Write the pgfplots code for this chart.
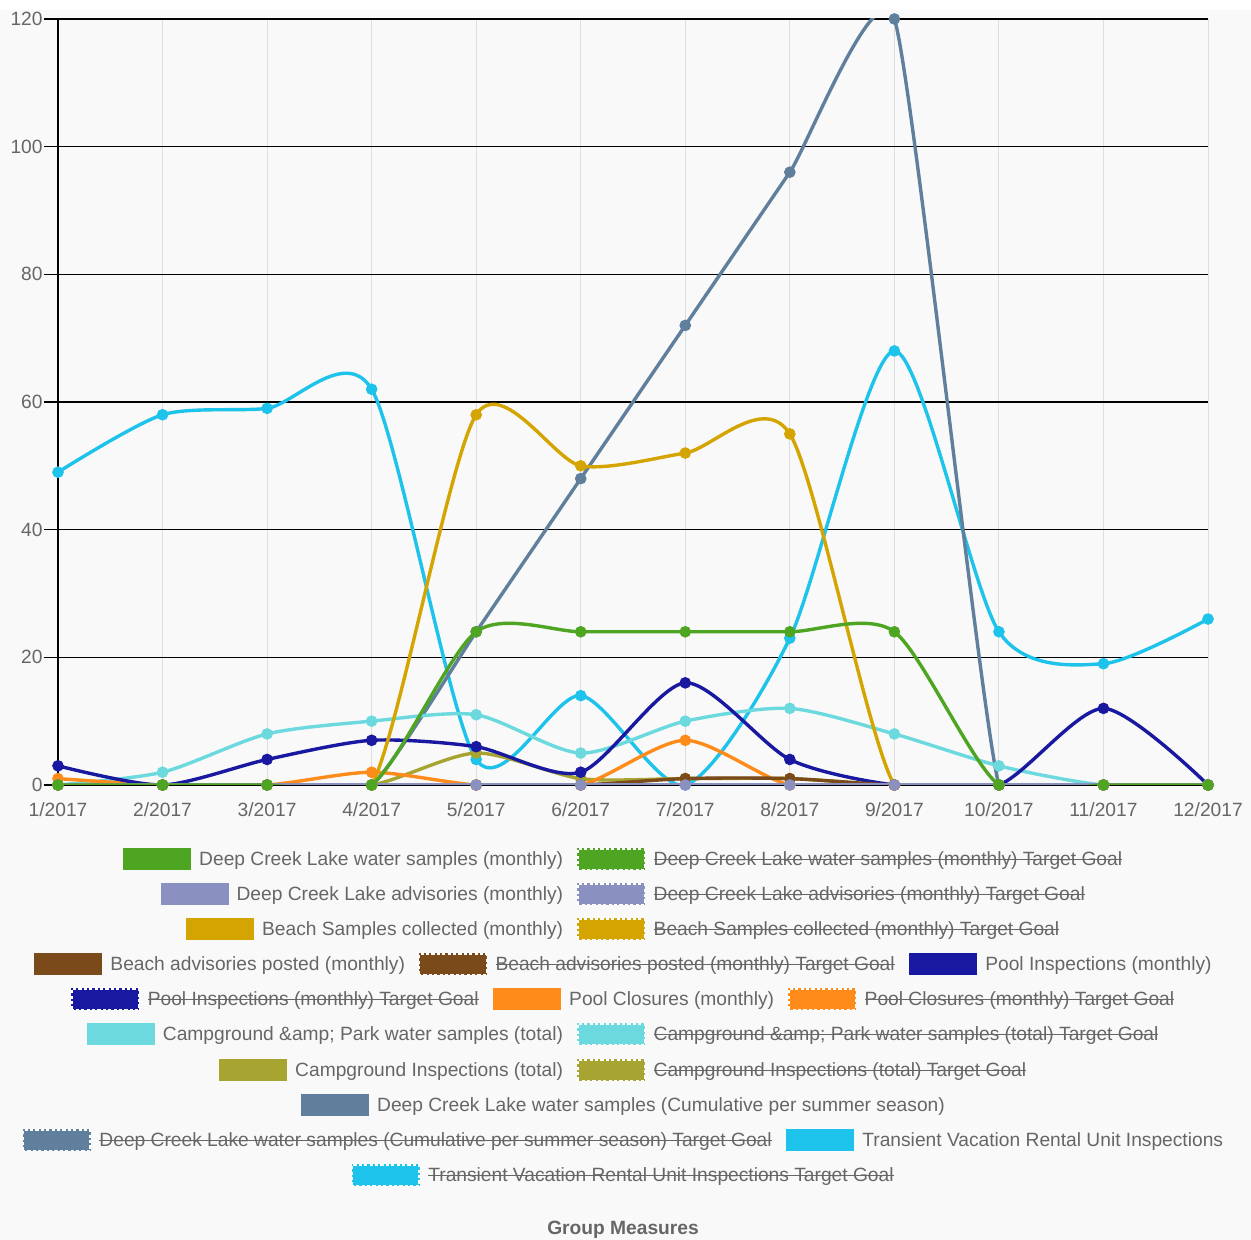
\documentclass[border=0pt]{standalone}
\usepackage{pgfplots}
\pgfplotsset{compat=1.18}
\usepackage{pgfplotstable}
\usepackage{fontspec}
\setmainfont{Liberation Sans}

\definecolor{cGreen}{HTML}{4DA521}
\definecolor{cLav}{HTML}{8A90C0}
\definecolor{cGold}{HTML}{D4A500}
\definecolor{cBrown}{HTML}{7B4A1A}
\definecolor{cNavy}{HTML}{1818A0}
\definecolor{cOrange}{HTML}{FF8C1A}
\definecolor{cAqua}{HTML}{6CD9DF}
\definecolor{cOlive}{HTML}{A8A432}
\definecolor{cSlate}{HTML}{5F7F9C}
\definecolor{cCyan}{HTML}{1EC3EB}
\definecolor{txt}{HTML}{666666}
\definecolor{bg}{HTML}{F9F9F9}

% month index, then one column per measure
\pgfplotstableread{
x dclw dcla beach beachadv pool poolc campw campi cum tvr
0  0  0  0  0  3  1  0  0   0  49
1  0  0  0  0  0  0  2  0   0  58
2  0  0  0  0  4  0  8  0   0  59
3  0  0  0  0  7  2 10  0   0  62
4 24  0 58  0  6  0 11  5  24   4
5 24  0 50  0  2  0  5  1  48  14
6 24  0 52  1 16  7 10  1  72   0
7 24  0 55  1  4  0 12  1  96  23
8 24  0  0  0  0  0  8  0 120  68
9  0  0  0  0  0  0  3  0   0  24
10 0  0  0  0 12  0  0  0   0  19
11 0  0  0  0  0  0  0  0   0  26
}\measures

\newcommand{\sw}[1]{\tikz[baseline=0pt]\fill[#1] (0,-2.2pt) rectangle (34pt,8.8pt);}
\newcommand{\swoff}[1]{\tikz[baseline=0pt]{\fill[#1] (0,-2.2pt) rectangle (34pt,8.8pt);
  \draw[white, line width=0.7pt, dash pattern=on 1.6pt off 1.1pt] (0.35pt,-1.85pt) rectangle (33.65pt,8.45pt);}}
\newcommand{\strike}[1]{\tikz[baseline=(s.base)]{\node[inner sep=0pt, outer sep=0pt] (s) {#1};
  \draw[txt, line width=0.6pt] ([yshift=3.2pt]s.base west) -- ([yshift=3.2pt]s.base east);}}
\newcommand{\li}[2]{\sw{#1}\hspace{4pt}#2}
\newcommand{\lo}[2]{\swoff{#1}\hspace{4pt}\strike{#2}}
\newcommand{\gap}{\hspace{7pt}}

\pgfplotsset{
  ser/.style={color=#1, line width=1.7pt, smooth, tension=0.45,
    mark=*, mark size=2.7pt, mark options={fill=#1, draw=#1, line width=0.4pt}},
}

\begin{document}
\begin{tikzpicture}
\fill[white] (0,0) rectangle (625.5pt,620pt);
\fill[bg] (0,0) rectangle (625.5pt,615pt);
\path[use as bounding box] (0,0) rectangle (625.5pt,620pt);

\begin{axis}[
  at={(29pt,227.5pt)}, anchor=south west,
  scale only axis, width=575pt, height=383pt,
  xmin=0, xmax=11, ymin=0, ymax=120,
  xtick={0,...,11},
  xticklabels={1/2017,2/2017,3/2017,4/2017,5/2017,6/2017,7/2017,8/2017,9/2017,10/2017,11/2017,12/2017},
  ytick={0,20,...,120},
  axis lines*=left,
  axis line style={black, line width=0.7pt},
  tick align=outside,
  major tick length=7pt,
  xtick style={draw=none},
  ytick style={black, line width=0.6pt},
  xmajorgrids, ymajorgrids,
  x grid style={black!13, line width=0.5pt},
  y grid style={black, line width=0.6pt},
  tick label style={font=\fontsize{9.6}{11}\selectfont, text=txt},
  yticklabel style={inner xsep=0.5pt},
  xticklabel style={yshift=1.5pt},
  /pgf/number format/assume math mode=true,
]
\addplot[ser=cCyan]   table[x=x, y=tvr]      {\measures};
\addplot[ser=cSlate, tension=0.3] table[x=x, y=cum] {\measures};
\addplot[ser=cOlive]  table[x=x, y=campi]    {\measures};
\addplot[ser=cAqua]   table[x=x, y=campw]    {\measures};
\addplot[ser=cOrange] table[x=x, y=poolc]    {\measures};
\addplot[ser=cNavy]   table[x=x, y=pool]     {\measures};
\addplot[ser=cBrown]  table[x=x, y=beachadv] {\measures};
\addplot[ser=cGold]   table[x=x, y=beach]    {\measures};
\addplot[ser=cLav]    table[x=x, y=dcla]     {\measures};
\addplot[ser=cGreen]  table[x=x, y=dclw]     {\measures};
\end{axis}

% legend rows, centred below the plot
\begin{scope}[every node/.style={anchor=base, inner sep=0pt, text=txt,
    font=\fontsize{9.6}{11}\selectfont}]
\node at (311.5pt,187pt) {\li{cGreen}{Deep Creek Lake water samples (monthly)}\gap\lo{cGreen}{Deep Creek Lake water samples (monthly) Target Goal}};
\node at (311.5pt,169.5pt) {\li{cLav}{Deep Creek Lake advisories (monthly)}\gap\lo{cLav}{Deep Creek Lake advisories (monthly) Target Goal}};
\node at (311.5pt,152pt) {\li{cGold}{Beach Samples collected (monthly)}\gap\lo{cGold}{Beach Samples collected (monthly) Target Goal}};
\node at (311.5pt,134.5pt) {\li{cBrown}{Beach advisories posted (monthly)}\gap\lo{cBrown}{Beach advisories posted (monthly) Target Goal}\gap\li{cNavy}{Pool Inspections (monthly)}};
\node at (311.5pt,117pt) {\lo{cNavy}{Pool Inspections (monthly) Target Goal}\gap\li{cOrange}{Pool Closures (monthly)}\gap\lo{cOrange}{Pool Closures (monthly) Target Goal}};
\node at (311.5pt,99.5pt) {\li{cAqua}{Campground \&amp; Park water samples (total)}\gap\lo{cAqua}{Campground \&amp; Park water samples (total) Target Goal}};
\node at (311.5pt,81.5pt) {\li{cOlive}{Campground Inspections (total)}\gap\lo{cOlive}{Campground Inspections (total) Target Goal}};
\node at (311.5pt,64pt) {\li{cSlate}{Deep Creek Lake water samples (Cumulative per summer season)}};
\node at (311.5pt,46.5pt) {\lo{cSlate}{Deep Creek Lake water samples (Cumulative per summer season) Target Goal}\gap\li{cCyan}{Transient Vacation Rental Unit Inspections}};
\node at (311.5pt,29pt) {\lo{cCyan}{Transient Vacation Rental Unit Inspections Target Goal}};
\node[font=\fontsize{9.6}{11}\selectfont\bfseries] at (311.5pt,2.5pt) {Group Measures};
\end{scope}
\end{tikzpicture}
\end{document}
